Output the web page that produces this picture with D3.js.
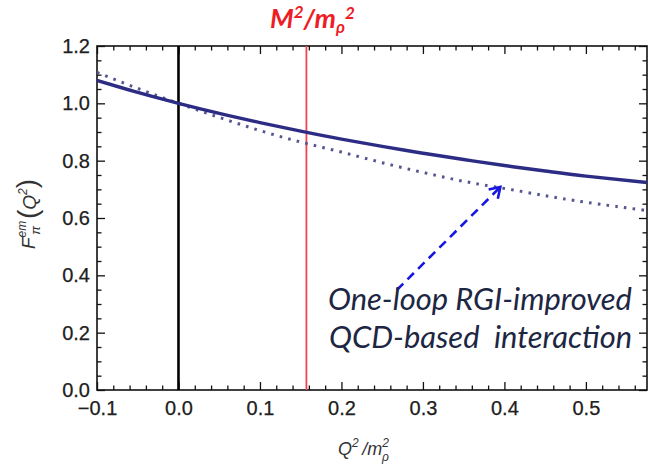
<!DOCTYPE html>
<html>
<head>
<meta charset="utf-8">
<script src="https://cdn.jsdelivr.net/npm/d3@7"></script>
<style>
  body { margin: 0; background: #fff; }
  svg { display: block; }
</style>
</head>
<body>
<svg id="chart" width="648" height="474"></svg>
<script>
// Q^2 / m_rho^2 sample points
const qValues = [-0.1, -0.05, 0, 0.05, 0.1, 0.15, 0.2, 0.25, 0.3, 0.35, 0.4, 0.45, 0.5, 0.575];
// Pion electromagnetic form factor, full calculation (solid)
const formFactorSolid = [1.080, 1.038, 1.000, 0.965, 0.933, 0.903, 0.875, 0.850, 0.826, 0.804, 0.783, 0.764, 0.746, 0.724];
// One-loop RGI-improved QCD-based interaction (dotted)
const formFactorDotted = [1.108, 1.052, 1.000, 0.951, 0.905, 0.865, 0.830, 0.793, 0.759, 0.728, 0.703, 0.678, 0.655, 0.626];
// Marker positions
const massRatio = 0.157;          // M^2 / m_rho^2
const arrowFrom = [0.268, 0.349];
const arrowTo = [0.395, 0.708];
// Axis ticks
const xTicks = [-0.1, 0, 0.1, 0.2, 0.3, 0.4, 0.5];
const xTickLabels = ["\u22120.1", "0.0", "0.1", "0.2", "0.3", "0.4", "0.5"];
const yTicks = [0, 0.2, 0.4, 0.6, 0.8, 1.0, 1.2];
const yTickLabels = ["0.0", "0.2", "0.4", "0.6", "0.8", "1.0", "1.2"];
const annotationLines = ["One-loop RGI-improved", "QCD-based\u00a0 interaction"];

const svg = d3.select("#chart");
const plotLeft = 97, plotRight = 647, plotTop = 46, plotBottom = 390;
const x = d3.scaleLinear().domain([-0.1, 0.575]).range([plotLeft, plotRight]);
const y = d3.scaleLinear().domain([0, 1.2]).range([plotBottom, plotTop]);

const tickFont = "'Liberation Sans Narrow', 'Arial Narrow', 'Liberation Sans', sans-serif";

const defs = svg.append("defs");
defs.append("clipPath").attr("id", "plotClip")
  .append("rect").attr("x", plotLeft).attr("y", plotTop)
  .attr("width", plotRight - plotLeft).attr("height", plotBottom - plotTop);

const xMinor = d3.range(-0.1, 0.5751, 0.02).map(v => +v.toFixed(3)).filter(v => !xTicks.some(t => Math.abs(t - v) < 1e-6));
const yMinor = d3.range(0, 1.2001, 0.05).map(v => +v.toFixed(3)).filter(v => !yTicks.some(t => Math.abs(t - v) < 1e-6));

function styleAxis(g) {
  g.select(".domain").remove();
  g.selectAll(".tick line").attr("stroke", "#111").attr("stroke-width", 1.3);
}
function styleLabels(g) {
  g.selectAll("text").attr("font-family", tickFont).attr("font-size", 20)
    .attr("fill", "#202020").attr("stroke", "#202020").attr("stroke-width", 0.25);
}

// Bottom axis
svg.append("g").attr("transform", `translate(0,${plotBottom})`)
  .call(d3.axisBottom(x).tickValues(xTicks).tickSizeInner(-8).tickSizeOuter(0).tickPadding(11)
    .tickFormat((d, i) => xTickLabels[i]))
  .call(styleAxis).call(styleLabels);
svg.append("g").attr("transform", `translate(0,${plotBottom})`)
  .call(d3.axisBottom(x).tickValues(xMinor).tickSizeInner(-4.5).tickSizeOuter(0).tickFormat(""))
  .call(styleAxis);

// Top axis
svg.append("g").attr("transform", `translate(0,${plotTop})`)
  .call(d3.axisTop(x).tickValues(xTicks).tickSizeInner(-8).tickSizeOuter(0).tickFormat(""))
  .call(styleAxis);
svg.append("g").attr("transform", `translate(0,${plotTop})`)
  .call(d3.axisTop(x).tickValues(xMinor).tickSizeInner(-4.5).tickSizeOuter(0).tickFormat(""))
  .call(styleAxis);

// Left axis
svg.append("g").attr("transform", `translate(${plotLeft},0)`)
  .call(d3.axisLeft(y).tickValues(yTicks).tickSizeInner(-8).tickSizeOuter(0).tickPadding(7)
    .tickFormat((d, i) => yTickLabels[i]))
  .call(styleAxis).call(styleLabels);
svg.append("g").attr("transform", `translate(${plotLeft},0)`)
  .call(d3.axisLeft(y).tickValues(yMinor).tickSizeInner(-4.5).tickSizeOuter(0).tickFormat(""))
  .call(styleAxis);

// Right axis
svg.append("g").attr("transform", `translate(${plotRight},0)`)
  .call(d3.axisRight(y).tickValues(yTicks).tickSizeInner(-8).tickSizeOuter(0).tickFormat(""))
  .call(styleAxis);
svg.append("g").attr("transform", `translate(${plotRight},0)`)
  .call(d3.axisRight(y).tickValues(yMinor).tickSizeInner(-4.5).tickSizeOuter(0).tickFormat(""))
  .call(styleAxis);

// Plot frame
svg.append("rect").attr("x", plotLeft).attr("y", plotTop)
  .attr("width", plotRight - plotLeft).attr("height", plotBottom - plotTop)
  .attr("fill", "none").attr("stroke", "#111").attr("stroke-width", 1.6);

const plot = svg.append("g").attr("clip-path", "url(#plotClip)");

// Q^2 = 0 line
plot.append("line")
  .attr("x1", x(0)).attr("x2", x(0)).attr("y1", y(0)).attr("y2", y(1.2))
  .attr("stroke", "#000").attr("stroke-width", 2.6);

// M^2 / m_rho^2 line
plot.append("line")
  .attr("x1", x(massRatio)).attr("x2", x(massRatio)).attr("y1", y(0)).attr("y2", y(1.2))
  .attr("stroke", "#f2434f").attr("stroke-width", 1.8);

const line = d3.line().curve(d3.curveNatural).x((d, i) => x(qValues[i])).y(d => y(d));

plot.append("path").datum(formFactorDotted)
  .attr("d", line).attr("fill", "none")
  .attr("stroke", "#555590").attr("stroke-width", 3)
  .attr("stroke-dasharray", "2.6 6.2");

plot.append("path").datum(formFactorSolid)
  .attr("d", line).attr("fill", "none")
  .attr("stroke", "#2c2c84").attr("stroke-width", 3.4);

// Dashed arrow pointing to the dotted curve
defs.append("marker").attr("id", "chev")
  .attr("viewBox", "-12 -8 14 16").attr("refX", 0).attr("refY", 0)
  .attr("markerUnits", "userSpaceOnUse").attr("markerWidth", 14).attr("markerHeight", 16)
  .attr("orient", "auto")
  .append("path").attr("d", "M-10,-6.5 L0,0 L-10,6.5")
  .attr("fill", "none").attr("stroke", "#1616e0").attr("stroke-width", 2.6)
  .attr("stroke-linejoin", "miter");

svg.append("line")
  .attr("x1", x(arrowFrom[0])).attr("y1", y(arrowFrom[1]))
  .attr("x2", x(arrowTo[0])).attr("y2", y(arrowTo[1]))
  .attr("stroke", "#1616e0").attr("stroke-width", 2.6)
  .attr("stroke-dasharray", "9 6")
  .attr("marker-end", "url(#chev)");

// Annotation text
const annFont = "Lato, 'Open Sans', sans-serif";
const ann = svg.append("g").attr("font-family", annFont).attr("font-style", "italic")
  .attr("fill", "#1d2642");
const line1 = ann.append("text").attr("x", 328).attr("y", 310).attr("font-size", 24).text(annotationLines[0]);
const w1 = line1.node().getComputedTextLength();
const annSize = 24 * 304 / w1;
line1.attr("font-size", annSize);
ann.append("text").attr("x", 329).attr("y", 348).attr("font-size", annSize)
  .attr("xml:space", "preserve").text(annotationLines[1]);

// Title: M^2 / m_rho^2
const title = svg.append("text").attr("x", 270).attr("y", 28)
  .attr("font-family", "Lato, 'Open Sans', sans-serif")
  .attr("font-weight", "bold").attr("font-style", "italic")
  .attr("font-size", 27).attr("fill", "#ee1c25");
title.append("tspan").text("M");
title.append("tspan").attr("font-size", 17).attr("dy", -10).text("2");
title.append("tspan").attr("dy", 10).text("/m");
title.append("tspan").attr("font-size", 17).attr("dy", 5).text("\u03c1");
title.append("tspan").attr("font-size", 17).attr("dy", -14).text("2");

// X-axis title: Q^2 / m_rho^2
const xt = svg.append("text").attr("x", 338).attr("y", 455)
  .attr("font-family", "'Liberation Sans', sans-serif").attr("font-style", "italic")
  .attr("font-size", 18).attr("fill", "#333");
xt.append("tspan").text("Q");
xt.append("tspan").attr("font-size", 12).attr("dy", -8).text("2");
xt.append("tspan").attr("dy", 8).text("\u2009/m");
xt.append("tspan").attr("font-size", 12).attr("dy", -8).text("2");
xt.append("tspan").attr("font-size", 12).attr("dx", -7).attr("dy", 14).text("\u03c1");

// Y-axis title: F_pi^em(Q^2)
const yt = svg.append("text")
  .attr("transform", "translate(35,214) rotate(-90)")
  .attr("text-anchor", "middle")
  .attr("font-family", "'Liberation Sans', sans-serif").attr("font-style", "italic")
  .attr("font-size", 19).attr("fill", "#333");
yt.append("tspan").text("F");
yt.append("tspan").attr("font-size", 12).attr("dy", -9).text("em");
yt.append("tspan").attr("font-size", 13).attr("dx", -14).attr("dy", 14).text("\u03c0");
yt.append("tspan").attr("font-size", 28).attr("font-style", "normal").attr("dx", 7).attr("dy", -3).text("(");
yt.append("tspan").attr("dy", -1).text("Q");
yt.append("tspan").attr("font-size", 12).attr("dy", -9).text("2");
yt.append("tspan").attr("font-size", 28).attr("font-style", "normal").attr("dy", 9).text(")");
</script>
</body>
</html>
